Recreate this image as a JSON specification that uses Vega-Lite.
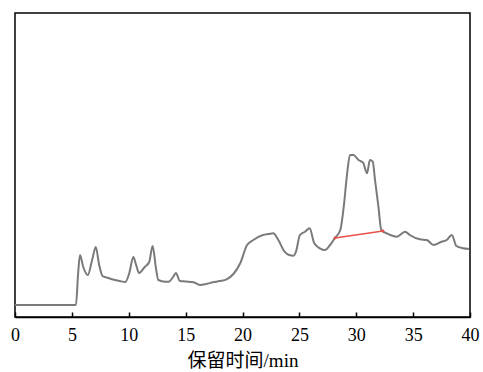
{
  "$schema": "https://vega.github.io/schema/vega-lite/v6.json",
  "width": 455,
  "height": 304,
  "autosize": {"type": "none"},
  "padding": {"left": 15, "top": 13, "right": 13, "bottom": 55},
  "background": "white",
  "config": {
    "view": {"stroke": "black", "strokeWidth": 1.5},
    "axis": {"grid": false}
  },
  "datasets": {
    "trace": [
      {"t": 0, "v": 12}, {"t": 2.5, "v": 12}, {"t": 5.36, "v": 12},
      {"t": 5.54, "v": 42}, {"t": 5.71, "v": 62}, {"t": 6.0, "v": 50},
      {"t": 6.4, "v": 42}, {"t": 6.8, "v": 58}, {"t": 7.1, "v": 70},
      {"t": 7.4, "v": 52}, {"t": 7.7, "v": 41}, {"t": 8.2, "v": 39},
      {"t": 8.8, "v": 37}, {"t": 9.2, "v": 36}, {"t": 9.7, "v": 35},
      {"t": 10.05, "v": 44}, {"t": 10.4, "v": 60}, {"t": 10.65, "v": 52},
      {"t": 10.9, "v": 44}, {"t": 11.4, "v": 50}, {"t": 11.8, "v": 55},
      {"t": 12.1, "v": 71}, {"t": 12.4, "v": 48}, {"t": 12.6, "v": 37},
      {"t": 13.2, "v": 35.3}, {"t": 13.5, "v": 35.3}, {"t": 13.9, "v": 40},
      {"t": 14.15, "v": 44}, {"t": 14.5, "v": 36}, {"t": 15.0, "v": 35.5},
      {"t": 15.7, "v": 34.7}, {"t": 16.3, "v": 32}, {"t": 16.8, "v": 33},
      {"t": 17.4, "v": 34.7}, {"t": 18.0, "v": 36}, {"t": 18.6, "v": 37.7},
      {"t": 19.2, "v": 43}, {"t": 19.8, "v": 53.7}, {"t": 20.4, "v": 72},
      {"t": 20.95, "v": 77}, {"t": 21.8, "v": 82}, {"t": 22.3, "v": 83},
      {"t": 22.7, "v": 83.7}, {"t": 23.15, "v": 77}, {"t": 23.7, "v": 65.3},
      {"t": 24.1, "v": 62}, {"t": 24.5, "v": 61.3}, {"t": 24.7, "v": 65.3},
      {"t": 25.05, "v": 82}, {"t": 25.5, "v": 85.3}, {"t": 25.9, "v": 88.7},
      {"t": 26.3, "v": 74}, {"t": 26.8, "v": 68.7}, {"t": 27.25, "v": 67},
      {"t": 27.7, "v": 72}, {"t": 28.1, "v": 78.7}, {"t": 28.6, "v": 87},
      {"t": 28.9, "v": 110.3}, {"t": 29.2, "v": 143.7}, {"t": 29.45, "v": 162},
      {"t": 29.75, "v": 162}, {"t": 30.2, "v": 157}, {"t": 30.6, "v": 154.3},
      {"t": 30.95, "v": 143.7}, {"t": 31.2, "v": 157}, {"t": 31.45, "v": 155.3},
      {"t": 31.65, "v": 137}, {"t": 31.95, "v": 110.3}, {"t": 32.2, "v": 87},
      {"t": 32.8, "v": 83}, {"t": 33.55, "v": 80.3}, {"t": 34.3, "v": 85.3},
      {"t": 34.7, "v": 82}, {"t": 35.6, "v": 77.7}, {"t": 36.2, "v": 77},
      {"t": 36.8, "v": 72}, {"t": 37.5, "v": 75.3}, {"t": 37.95, "v": 77},
      {"t": 38.4, "v": 82}, {"t": 38.8, "v": 71}, {"t": 39.4, "v": 68.7},
      {"t": 39.9, "v": 68}
    ],
    "baseline": [
      {"t": 28.13, "v": 79}, {"t": 32.35, "v": 86}
    ]
  },
  "layer": [
    {
      "data": {"name": "trace"},
      "mark": {"type": "line", "color": "#7a7a7a", "strokeWidth": 2, "interpolate": "monotone", "clip": true},
      "encoding": {
        "x": {
          "field": "t", "type": "quantitative",
          "scale": {"domain": [0, 40], "nice": false},
          "axis": {
            "values": [0, 5, 10, 15, 20, 25, 30, 35, 40],
            "title": "保留时间/min",
            "titleFont": "Liberation Serif, Noto Sans CJK SC",
            "titleFontSize": 19,
            "titleFontWeight": "normal",
            "titleColor": "black",
            "titlePadding": 7,
            "labelFont": "Liberation Serif",
            "labelFontSize": 18,
            "labelColor": "black",
            "labelPadding": 14,
            "labelFlush": false,
            "labelOverlap": false,
            "tickSize": -5,
            "tickColor": "black",
            "tickWidth": 1.5,
            "domainColor": "black",
            "domainWidth": 1.5
          }
        },
        "y": {
          "field": "v", "type": "quantitative",
          "scale": {"domain": [0, 304], "nice": false},
          "axis": null
        }
      }
    },
    {
      "data": {"name": "baseline"},
      "mark": {"type": "line", "color": "#e8504a", "strokeWidth": 1.5, "point": {"color": "#e8504a", "size": 8, "filled": true}},
      "encoding": {
        "x": {"field": "t", "type": "quantitative"},
        "y": {"field": "v", "type": "quantitative"}
      }
    }
  ]
}
